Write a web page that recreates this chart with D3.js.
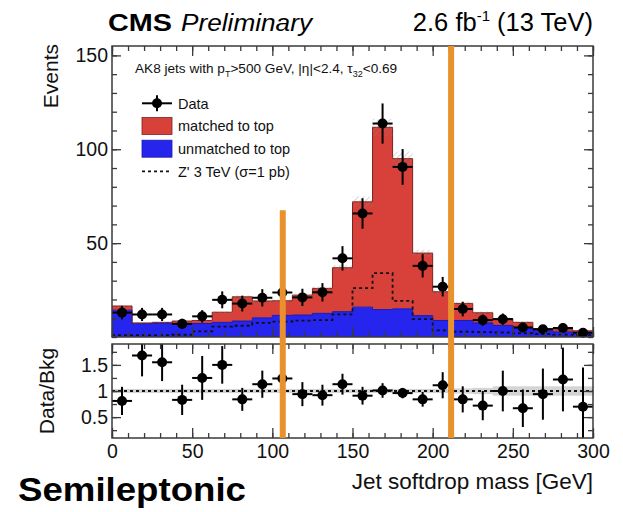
<!DOCTYPE html>
<html>
<head>
<meta charset="utf-8">
<script src="https://cdn.jsdelivr.net/npm/d3@7.9.0/dist/d3.min.js"></script>
<style>
  body { margin: 0; background: #fff; }
  svg { display: block; font-family: "Liberation Sans", Arial, sans-serif; }
</style>
</head>
<body>
<svg id="chart" width="623" height="512"></svg>
<script>
// bin edges of the jet softdrop mass histogram (GeV)
const binEdges = [0, 12.5, 25, 37.5, 50, 62.5, 75, 87.5, 100, 112.5, 125, 137.5, 150,
  162.5, 175, 187.5, 200, 212.5, 225, 237.5, 250, 262.5, 275, 287.5, 300];

// events per bin
const dataCounts = [13, 12, 12, 7, 11, 19.8, 17.8, 20.9, 23.7, 21.1, 23.8, 41.9,
  65.8, 113.7, 90.6, 37.9, 26.8, 14.9, 9, 9.5, 5.1, 4.1, 4.8, 2.3];
const dataErr = [3.6, 3.5, 3.5, 2.7, 3.3, 4.5, 4.2, 4.6, 4.9, 4.6, 4.9, 6.5,
  8.1, 10.7, 9.5, 6.2, 5.2, 3.9, 3.0, 3.0, 2.3, 2.0, 2.2, 1.6];
const unmatched = [14.3, 7.1, 7.4, 6.7, 7.2, 7.8, 8.5, 10.2, 11.5, 11.7, 12.6, 13.5,
  15.9, 14.6, 15, 11.4, 8.8, 8.8, 7.5, 6.2, 4.8, 3.3, 2.7, 2.2];
const matched = [2.2, 0.4, 0.4, 1.8, 1.6, 5.4, 12.9, 9.0, 7.8, 10.6, 13.3, 23.4,
  56.1, 97.1, 80, 33.3, 15.3, 9.1, 5.4, 3.6, 3.0, 1.2, 1.2, 1.1];
const zprime = [1, 1, 1, 1.2, 3, 5.5, 6, 7.5, 8.2, 8.7, 9, 12,
  26, 34, 19.2, 9.5, 3.5, 2.8, 2.6, 2.4, 2, 1.6, 1.3, 1.0];

// ratio panel
const ratio = [0.81, 1.68, 1.55, 0.83, 1.25, 1.5, 0.84, 1.13, 1.24, 0.94, 0.92, 1.13,
  0.91, 1.01, 0.96, 0.84, 1.11, 0.84, 0.72, 1.0, 0.67, 0.94, 1.22, 0.7];
const ratioErr = [0.27, 0.4, 0.36, 0.29, 0.42, 0.36, 0.22, 0.26, 0.25, 0.23, 0.2, 0.2,
  0.17, 0.14, 0.1, 0.14, 0.25, 0.25, 0.28, 0.39, 0.36, 0.49, 0.61, 0.75];
const bkgRelErr = [0.04, 0.04, 0.04, 0.04, 0.04, 0.04, 0.04, 0.04, 0.04, 0.04, 0.04, 0.04,
  0.04, 0.04, 0.04, 0.04, 0.04, 0.05, 0.06, 0.09, 0.09, 0.09, 0.09, 0.09];

// mass window markers (GeV) and where they start (events)
const cutMass = [106.5, 211.5];
const cutTop = [67.5, 155];

const xTicks = [0, 50, 100, 150, 200, 250, 300];
const yTicks = [50, 100, 150];
const rTicks = [0.5, 1, 1.5];

const RED = '#d8403a', BLUE = '#2525ee', FRAME = '#3a3a3a', ORANGE = '#e8912d';

const svg = d3.select('#chart');
const x = d3.scaleLinear().domain([0, 300]).range([112, 593]);
const y = d3.scaleLinear().domain([0, 155]).range([337, 46]);
const yr = d3.scaleLinear().domain([0.1, 1.9]).range([438, 344]);

const nb = dataCounts.length;
const bins = d3.range(nb).map(i => ({
  lo: binEdges[i], hi: binEdges[i + 1], mid: (binEdges[i] + binEdges[i + 1]) / 2,
  data: dataCounts[i], err: dataErr[i], un: unmatched[i], ma: matched[i], zp: zprime[i],
  r: ratio[i], rerr: ratioErr[i], band: bkgRelErr[i]
}));

const stack = d3.stack().keys(['un', 'ma'])(bins);

// step helpers: repeat last bin so the step closes at 300
function stepPts(vals) {
  return binEdges.map((e, i) => [e, vals[Math.min(i, nb - 1)]]);
}
const areaStep = d3.area().curve(d3.curveStepAfter)
  .x(d => x(d[0])).y0(d => y(d[1])).y1(d => y(d[2]));
const lineStep = d3.line().curve(d3.curveStepAfter).x(d => x(d[0])).y(d => y(d[1]));

function layerPts(layer) {
  return binEdges.map((e, i) => {
    const s = layer[Math.min(i, nb - 1)];
    return [e, s[0], s[1]];
  });
}

const main = svg.append('g');
const colors = [BLUE, RED];
stack.slice().reverse().forEach((layer, k) => {
  const c = colors[1 - k];
  main.append('path').attr('d', areaStep(layerPts(layer))).attr('fill', c);
});
stack.forEach((layer, k) => {
  main.append('path')
    .attr('d', lineStep(layerPts(layer).map(p => [p[0], p[2]])))
    .attr('fill', 'none')
    .attr('stroke', k === 0 ? '#1a1aa8' : '#7a2320')
    .attr('stroke-width', 1);
});

// background uncertainty hatch on top of the stack
const defs = svg.append('defs');
const pat = defs.append('pattern').attr('id', 'hatch').attr('patternUnits', 'userSpaceOnUse')
  .attr('width', 4).attr('height', 4).attr('patternTransform', 'rotate(45)');
pat.append('line').attr('x1', 0).attr('y1', 0).attr('x2', 0).attr('y2', 4)
  .attr('stroke', '#8a8a8a').attr('stroke-width', 1);
main.selectAll('rect.unc').data(bins).join('rect').attr('class', 'unc')
  .attr('x', d => x(d.lo)).attr('width', d => x(d.hi) - x(d.lo))
  .attr('y', d => y((d.un + d.ma) * (1 + d.band)))
  .attr('height', d => y((d.un + d.ma) * (1 - d.band)) - y((d.un + d.ma) * (1 + d.band)))
  .attr('fill', 'url(#hatch)').attr('opacity', 0.7);

// Z' 3 TeV signal
main.append('path').attr('d', lineStep(stepPts(zprime)))
  .attr('fill', 'none').attr('stroke', '#111').attr('stroke-width', 1.8)
  .attr('stroke-dasharray', '3,3');

// data points
const pts = main.selectAll('g.pt').data(bins).join('g').attr('class', 'pt');
pts.append('line').attr('x1', d => x(d.lo)).attr('x2', d => x(d.hi))
  .attr('y1', d => y(d.data)).attr('y2', d => y(d.data)).attr('stroke', '#000').attr('stroke-width', 2);
pts.append('line').attr('x1', d => x(d.mid)).attr('x2', d => x(d.mid))
  .attr('y1', d => y(Math.max(0, d.data - d.err))).attr('y2', d => y(d.data + d.err))
  .attr('stroke', '#000').attr('stroke-width', 2);
pts.append('circle').attr('cx', d => x(d.mid)).attr('cy', d => y(d.data)).attr('r', 5).attr('fill', '#000');

// ratio panel
const rat = svg.append('g');
rat.selectAll('rect.band').data(bins).join('rect').attr('class', 'band')
  .attr('x', d => x(d.lo)).attr('width', d => x(d.hi) - x(d.lo) + 0.5)
  .attr('y', d => yr(1 + d.band)).attr('height', d => yr(1 - d.band) - yr(1 + d.band))
  .attr('fill', '#d4d4d4');
rat.append('line').attr('x1', x(0)).attr('x2', x(300)).attr('y1', yr(1)).attr('y2', yr(1))
  .attr('stroke', '#111').attr('stroke-width', 2).attr('stroke-dasharray', '3,3');
const rp = rat.selectAll('g.rp').data(bins).join('g').attr('class', 'rp');
rp.append('line').attr('x1', d => x(d.lo)).attr('x2', d => x(d.hi))
  .attr('y1', d => yr(d.r)).attr('y2', d => yr(d.r)).attr('stroke', '#000').attr('stroke-width', 2);
rp.append('line').attr('x1', d => x(d.mid)).attr('x2', d => x(d.mid))
  .attr('y1', d => yr(Math.max(0.1, d.r - d.rerr))).attr('y2', d => yr(Math.min(1.9, d.r + d.rerr)))
  .attr('stroke', '#000').attr('stroke-width', 2);
rp.append('circle').attr('cx', d => x(d.mid)).attr('cy', d => yr(d.r)).attr('r', 5).attr('fill', '#000');

// axes: ticks on all four sides, pointing inward
function drawAxes(ys, yMajor, yMinor, labelsY, labelsX) {
  const [top, bottom] = [ys.range()[1], ys.range()[0]];
  const g = svg.append('g');
  const style = sel => {
    sel.select('.domain').remove();
    sel.selectAll('line').attr('stroke', FRAME).attr('stroke-width', 1.3);
    sel.selectAll('text').attr('font-size', 19.5).attr('fill', '#111')
      .attr('font-family', '"Liberation Sans", Arial, sans-serif');
  };
  const xMinor = d3.range(0, 301, 10);
  g.append('g').attr('transform', `translate(0,${bottom})`)
    .call(d3.axisBottom(x).tickValues(xMinor).tickSize(-5).tickFormat('')).call(style);
  g.append('g').attr('transform', `translate(0,${bottom})`)
    .call(d3.axisBottom(x).tickValues(xTicks).tickSize(-10).tickPadding(6)
      .tickFormat(labelsX ? d3.format('d') : '')).call(style);
  g.append('g').attr('transform', `translate(0,${top})`)
    .call(d3.axisTop(x).tickValues(xMinor).tickSize(-5).tickFormat('')).call(style);
  g.append('g').attr('transform', `translate(0,${top})`)
    .call(d3.axisTop(x).tickValues(xTicks).tickSize(-10).tickFormat('')).call(style);
  g.append('g').attr('transform', `translate(${x(0)},0)`)
    .call(d3.axisLeft(ys).tickValues(yMinor).tickSize(-5).tickFormat('')).call(style);
  g.append('g').attr('transform', `translate(${x(0)},0)`)
    .call(d3.axisLeft(ys).tickValues(yMajor).tickSize(-9).tickPadding(4).tickFormat(labelsY)).call(style);
  g.append('g').attr('transform', `translate(${x(300)},0)`)
    .call(d3.axisRight(ys).tickValues(yMinor).tickSize(-5).tickFormat('')).call(style);
  g.append('g').attr('transform', `translate(${x(300)},0)`)
    .call(d3.axisRight(ys).tickValues(yMajor).tickSize(-9).tickFormat('')).call(style);
  g.append('rect').attr('x', x(0)).attr('y', top).attr('width', x(300) - x(0)).attr('height', bottom - top)
    .attr('fill', 'none').attr('stroke', FRAME).attr('stroke-width', 1.5);
}
drawAxes(y, yTicks, d3.range(0, 155, 10), d3.format('d'), false);
drawAxes(yr, rTicks, [0.25, 0.5, 0.75, 1, 1.25, 1.5, 1.75], d => d === 1 ? '1' : d3.format('.1f')(d), true);

// legend and selection text
const leg = svg.append('g').attr('font-size', 14.5).attr('fill', '#111');
svg.append('text').attr('x', 135).attr('y', 73).attr('font-size', 13.6).attr('fill', '#111')
  .call(t => {
    t.append('tspan').text('AK8 jets with p');
    t.append('tspan').attr('dy', 4).attr('font-size', 9).text('T');
    t.append('tspan').attr('dy', -4).text('>500 GeV, |η|<2.4, τ');
    t.append('tspan').attr('dy', 4).attr('font-size', 9).text('32');
    t.append('tspan').attr('dy', -4).text('<0.69');
  });
const legendItems = ['Data', 'matched to top', 'unmatched to top', "Z' 3 TeV (σ=1 pb)"];
const legY = [103.3, 126, 148.7, 171.3];
legendItems.forEach((name, i) => {
  const cy = legY[i];
  if (i === 0) {
    leg.append('line').attr('x1', 142).attr('x2', 172).attr('y1', cy).attr('y2', cy).attr('stroke', '#000').attr('stroke-width', 2);
    leg.append('line').attr('x1', 157).attr('x2', 157).attr('y1', cy - 8).attr('y2', cy + 8).attr('stroke', '#000').attr('stroke-width', 2);
    leg.append('circle').attr('cx', 157).attr('cy', cy).attr('r', 5).attr('fill', '#000');
  } else if (i < 3) {
    leg.append('rect').attr('x', 142).attr('y', cy - 8.5).attr('width', 30).attr('height', 17)
      .attr('fill', i === 1 ? RED : BLUE).attr('stroke', i === 1 ? '#7a2320' : '#1a1aa8').attr('stroke-width', 0.8);
  } else {
    leg.append('line').attr('x1', 142).attr('x2', 172).attr('y1', cy).attr('y2', cy)
      .attr('stroke', '#111').attr('stroke-width', 1.8).attr('stroke-dasharray', '3,3');
  }
  leg.append('text').attr('x', 178).attr('y', cy).attr('dy', '0.36em').text(name);
});

// mass window markers spanning both panels
svg.selectAll('line.cut').data(cutMass).join('line').attr('class', 'cut')
  .attr('x1', d => x(d)).attr('x2', d => x(d))
  .attr('y1', (d, i) => y(cutTop[i])).attr('y2', yr(0.1))
  .attr('stroke', ORANGE).attr('stroke-width', 6);

// titles
svg.append('text').attr('x', 108).attr('y', 31).attr('font-size', 23).attr('font-weight', 'bold')
  .attr('textLength', 64).attr('lengthAdjust', 'spacingAndGlyphs').text('CMS');
svg.append('text').attr('x', 181).attr('y', 31).attr('font-size', 23).attr('font-style', 'italic')
  .attr('textLength', 131).attr('lengthAdjust', 'spacingAndGlyphs').text('Preliminary');
svg.append('text').attr('x', 593).attr('y', 31).attr('font-size', 25.5).attr('text-anchor', 'end')
  .call(t => {
    t.append('tspan').text('2.6 fb');
    t.append('tspan').attr('dy', -10).attr('font-size', 15).text('-1');
    t.append('tspan').attr('dy', 10).text(' (13 TeV)');
  });
svg.append('text').attr('transform', 'translate(58,44) rotate(-90)').attr('text-anchor', 'end')
  .attr('font-size', 21).attr('fill', '#111').text('Events');
svg.append('text').attr('transform', `translate(54,${yr(1)}) rotate(-90)`).attr('text-anchor', 'middle')
  .attr('font-size', 21).attr('fill', '#111').text('Data/Bkg');
svg.append('text').attr('x', 593).attr('y', 489).attr('text-anchor', 'end')
  .attr('font-size', 22.5).attr('fill', '#111').text('Jet softdrop mass [GeV]');
svg.append('text').attr('x', 18).attr('y', 501).attr('font-size', 33).attr('font-weight', 'bold')
  .attr('textLength', 228).attr('lengthAdjust', 'spacingAndGlyphs').text('Semileptonic');
</script>
</body>
</html>
